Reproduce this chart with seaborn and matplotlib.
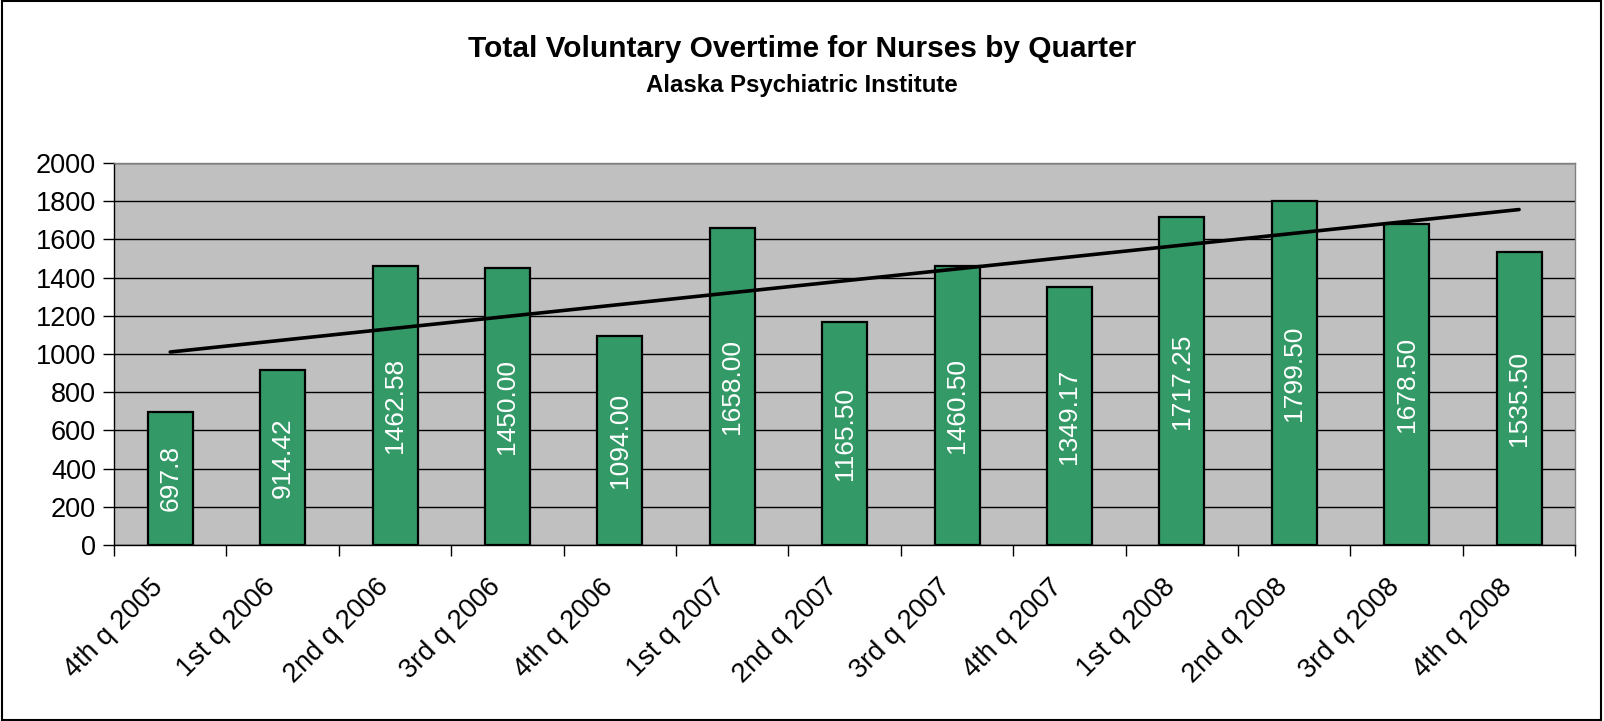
import numpy as np
import pandas as pd
import matplotlib
matplotlib.use("Agg")
import matplotlib.pyplot as plt
import matplotlib.transforms as mtransforms
import seaborn as sns
from matplotlib.patches import Rectangle

# Data
quarters = ["4th q 2005", "1st q 2006", "2nd q 2006", "3rd q 2006", "4th q 2006",
            "1st q 2007", "2nd q 2007", "3rd q 2007", "4th q 2007", "1st q 2008",
            "2nd q 2008", "3rd q 2008", "4th q 2008"]
overtime = [697.8, 914.42, 1462.58, 1450.00, 1094.00, 1658.00, 1165.50,
            1460.50, 1349.17, 1717.25, 1799.50, 1678.50, 1535.50]
bar_labels = ["697.8", "914.42", "1462.58", "1450.00", "1094.00", "1658.00", "1165.50",
              "1460.50", "1349.17", "1717.25", "1799.50", "1678.50", "1535.50"]
y_ticks = [0, 200, 400, 600, 800, 1000, 1200, 1400, 1600, 1800, 2000]

df = pd.DataFrame({"quarter": quarters, "hours": overtime})

sns.set_theme(style="white")
plt.rcParams['font.family'] = ['Liberation Sans', 'DejaVu Sans']
plt.rcParams['text.color'] = 'black'
plt.rcParams['xtick.color'] = 'black'
plt.rcParams['ytick.color'] = 'black'

fig = plt.figure(figsize=(16.04, 7.21), dpi=100)
ax = fig.add_axes([0.0711, 0.244, 0.911, 0.530])
ax.set_facecolor("#C0C0C0")

sns.barplot(data=df, x="quarter", y="hours", color="#339966", saturation=1,
            width=0.4, edgecolor="black", linewidth=1.6, ax=ax, zorder=3)

# value labels inside bars, rotated
for i, (v, lab) in enumerate(zip(overtime, bar_labels)):
    ax.text(i, v / 2, lab, rotation=90, ha="center", va="center",
            color="white", fontsize=19, zorder=4)

# linear trendline
x = np.arange(len(overtime))
slope, intercept = np.polyfit(x, overtime, 1)
ax.plot(x, slope * x + intercept, color="black", lw=2.6, zorder=5)

ax.set_ylim(0, 2000)
ax.set_xlim(-0.5, len(quarters) - 0.5)
ax.set_yticks(y_ticks)
ax.set_yticklabels([str(t) for t in y_ticks], fontsize=19.5)
ax.grid(axis="y", color="black", lw=1.0, zorder=1)
ax.set_axisbelow(True)

# tick marks at category boundaries, labels drawn as text below
ax.set_xticks(np.arange(-0.5, len(quarters)))
ax.set_xticklabels([])
ax.tick_params(axis="x", length=8, width=1, color="black", direction="out",
               bottom=True)
shift = mtransforms.ScaledTranslation(-0.20, -0.29, fig.dpi_scale_trans)
for i, q in enumerate(quarters):
    ax.text(i, 0, q, rotation=45, ha="right", va="top", rotation_mode="anchor",
            fontsize=19.5, transform=ax.get_xaxis_transform() + shift)

ax.tick_params(axis="y", length=8, width=1, color="black", direction="out",
               left=True, pad=5)
ax.set_xlabel("")
ax.set_ylabel("")

for s in ["left", "bottom"]:
    ax.spines[s].set_color("black")
    ax.spines[s].set_linewidth(1.0)
for s in ["top", "right"]:
    ax.spines[s].set_color("#808080")
    ax.spines[s].set_linewidth(1.0)

fig.text(0.5, 0.932, "Total Voluntary Overtime for Nurses by Quarter",
         ha="center", va="center", fontsize=21.5, fontweight="bold")
fig.text(0.5, 0.882, "Alaska Psychiatric Institute",
         ha="center", va="center", fontsize=17.3, fontweight="bold")

# chart border
fig.patches.append(Rectangle((0.001, 0.002), 0.997, 0.996, transform=fig.transFigure,
                             fill=False, edgecolor="black", lw=1.5))

fig.savefig("out.png", dpi=100)
